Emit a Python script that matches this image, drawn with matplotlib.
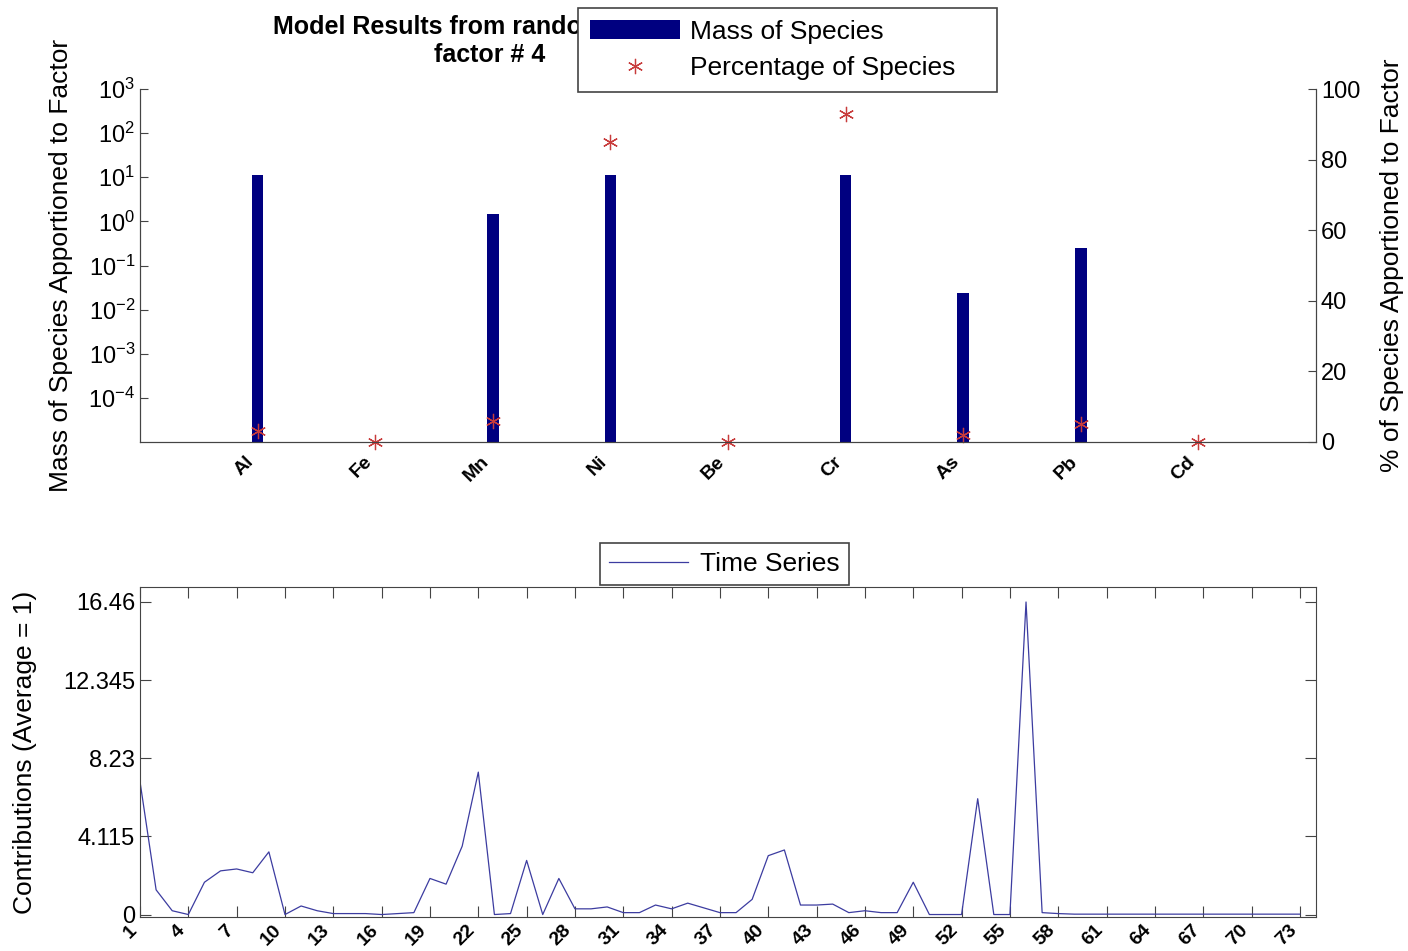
import matplotlib.pyplot as plt
import numpy as np

plt.rcParams['font.family'] = ['Liberation Sans', 'DejaVu Sans']

species = ['Al', 'Fe', 'Mn', 'Ni', 'Be', 'Cr', 'As', 'Pb', 'Cd']
mass = [11.0, 0, 1.5, 11.0, 0, 11.5, 0.024, 0.25, 0]
percent = [3, 0, 6, 85, 0, 93, 2, 5, 0]

ts = [7.0, 1.3, 0.2, 0.0, 1.7, 2.3, 2.4, 2.2, 3.3, 0.0,
      0.45, 0.2, 0.05, 0.05, 0.05, 0.0, 0.05, 0.1, 1.9, 1.6,
      3.6, 7.5, 0.0, 0.05, 2.85, 0.0, 1.9, 0.3, 0.3, 0.4,
      0.1, 0.1, 0.5, 0.3, 0.6, 0.35, 0.1, 0.1, 0.8, 3.1,
      3.4, 0.5, 0.5, 0.55, 0.1, 0.2, 0.1, 0.1, 1.7, 0.0,
      0.0, 0.0, 6.1, 0.0, 0.0, 16.46, 0.1, 0.05, 0.02, 0.02,
      0.02, 0.02, 0.02, 0.02, 0.02, 0.02, 0.02, 0.02, 0.02, 0.02,
      0.02, 0.02, 0.02]
ts_ticks = [0, 4.115, 8.23, 12.345, 16.46]
ts_ticklabels = ['0', '4.115', '8.23', '12.345', '16.46']

W, H = 1408, 951
fig = plt.figure(figsize=(W / 100, H / 100), dpi=100)
edge = '#444444'
asterisk = (6, 2, 0)

# ---- top panel: species profile
ax = fig.add_axes([140 / W, 1 - 442 / H, 1176 / W, 353 / H])
xpos = np.arange(1, len(species) + 1)
bars = ax.bar(xpos, mass, width=0.1, color='#000080', label='Mass of Species')
ax.set_yscale('log')
ax.set_ylim(1e-5, 1e3)
ax.set_xlim(0, 10)
ax.set_yticks([10.0 ** k for k in range(-4, 4)])
ax.minorticks_off()
ax.set_xticks(xpos)
ax.set_xticklabels(species, rotation=45, ha='right', fontsize=14, fontweight='bold')
ax.tick_params(axis='x', length=0, pad=8)
ax.tick_params(axis='y', direction='in', length=6, labelsize=17, color=edge)
ax.set_ylabel('Mass of Species Apportioned to Factor', fontsize=19)
ax.yaxis.set_label_coords(-0.057, 0.5)
for s in ax.spines.values():
    s.set_color(edge)
ax.spines['top'].set_visible(False)

ax2 = ax.twinx()
ax2.set_ylim(0, 100)
pts = ax2.plot(xpos, percent, linestyle='none', marker=asterisk, color='#c83c3c',
               markersize=11, markeredgewidth=0.9, clip_on=False,
               label='Percentage of Species')
ax2.set_yticks([0, 20, 40, 60, 80, 100])
ax2.tick_params(axis='y', direction='in', length=6, labelsize=17, color=edge)
ax2.set_ylabel('% of Species Apportioned to Factor', fontsize=19)
ax2.yaxis.set_label_coords(1.054, 0.5)
for s in ax2.spines.values():
    s.set_color(edge)
ax2.spines['top'].set_visible(False)

fig.text(490 / W, 1 - 41 / H, 'Model Results from random start # 1\nfactor # 4',
         ha='center', va='center', fontsize=18, fontweight='bold', linespacing=1.2)

leg = fig.legend([bars, pts[0]], ['Mass of Species      ', 'Percentage of Species    '],
                 loc='upper left', bbox_to_anchor=(578 / W, 1 - 8 / H),
                 borderaxespad=0, fontsize=19, handlelength=3.4, handletextpad=0.4,
                 fancybox=False, framealpha=1, edgecolor=edge, borderpad=0.45,
                 labelspacing=0.45)
leg.get_frame().set_linewidth(1.2)
leg.set_zorder(10)

# ---- bottom panel: time series
ax3 = fig.add_axes([140 / W, 1 - 917 / H, 1176 / W, 330 / H])
idx = np.arange(1, len(ts) + 1)
ln = ax3.plot(idx, ts, color='#3c3ca0', linewidth=0.9, label='Time Series')
ax3.set_xlim(1, 74)
ax3.set_ylim(-0.13, 17.25)
ax3.set_yticks(ts_ticks)
ax3.set_yticklabels(ts_ticklabels)
ax3.set_xticks(np.arange(1, 74, 3))
ax3.set_xticklabels([str(v) for v in range(1, 74, 3)], rotation=45, ha='right',
                    fontsize=14, fontweight='bold')
ax3.tick_params(axis='both', direction='in', length=8, color=edge,
                top=True, right=True)
ax3.tick_params(axis='y', labelsize=17)
ax3.set_ylabel('Contributions (Average = 1)', fontsize=19)
ax3.yaxis.set_label_coords(-0.088, 0.5)
for s in ax3.spines.values():
    s.set_color(edge)

leg2 = fig.legend(ln, ['Time Series'], loc='upper left',
                  bbox_to_anchor=(600 / W, 1 - 543 / H), borderaxespad=0,
                  fontsize=19, handlelength=3.0, handletextpad=0.45,
                  fancybox=False, framealpha=1, edgecolor=edge, borderpad=0.35)
leg2.get_frame().set_linewidth(1.2)

fig.savefig('out.png', dpi=100)
